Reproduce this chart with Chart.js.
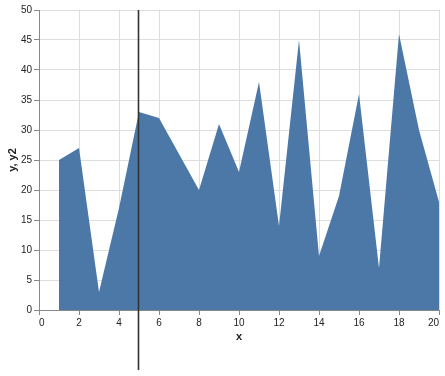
<!DOCTYPE html>
<html>
<head>
<meta charset="utf-8">
<script src="https://cdn.jsdelivr.net/npm/chart.js@4"></script>
<style>
  html, body { margin: 0; padding: 0; background: #fff; }
  #wrap { width: 445px; height: 376px; }
</style>
</head>
<body>
<div id="wrap"><canvas id="myChart" width="445" height="376"></canvas></div>
<script>
// data
var xValues = [1, 2, 3, 4, 5, 6, 7, 8, 9, 10, 11, 12, 13, 14, 15, 16, 17, 18, 19, 20];
var yValues = [25, 27, 3, 17, 33, 32, 26, 20, 31, 23, 38, 14, 45, 9, 19, 36, 7, 46, 30, 18];
var y2Values = [0, 0, 0, 0, 0, 0, 0, 0, 0, 0, 0, 0, 0, 0, 0, 0, 0, 0, 0, 0];
var ruleX = [5];

var fontFamily = "'Liberation Sans', Arial, sans-serif";

// vertical rule drawn from the x scale
var rulePlugin = {
    id: 'rule',
    afterDatasetsDraw: function (chart) {
        var ctx = chart.ctx;
        var xs = chart.scales.x;
        ctx.save();
        ctx.strokeStyle = '#333';
        ctx.lineWidth = 1.6;
        ruleX.forEach(function (v) {
            var px = Math.round(xs.getPixelForValue(v)) - 0.5;
            ctx.beginPath();
            ctx.moveTo(px, chart.chartArea.top);
            ctx.lineTo(px, 370);
            ctx.stroke();
        });
        ctx.restore();
    }
};

new Chart(document.getElementById("myChart"), {
    type: 'line',
    data: {
        datasets: [{
            label: 'y',
            data: xValues.map(function (x, i) { return { x: x, y: yValues[i] }; }),
            borderWidth: 0,
            borderColor: 'rgba(0,0,0,0)',
            backgroundColor: '#4c78a8',
            fill: 'origin',
            tension: 0,
            pointRadius: 0
        }]
    },
    options: {
        responsive: false,
        animation: false,
        layout: { padding: { left: 0, right: 6, top: 10, bottom: 32 } },
        plugins: {
            legend: { display: false },
            tooltip: { enabled: false }
        },
        scales: {
            x: {
                type: 'linear',
                min: 0,
                max: 20,
                afterFit: function (scale) {
                    scale.height = 34;
                    scale.paddingLeft = 0;
                    scale.paddingRight = 0;
                },
                ticks: {
                    stepSize: 2,
                    padding: 2,
                    align: 'inner',
                    maxRotation: 0,
                    color: '#222',
                    font: { family: fontFamily, size: 10 }
                },
                grid: { color: '#ddd', tickColor: '#888', tickLength: 5 },
                border: { color: '#888' },
                title: {
                    display: true,
                    text: 'x',
                    color: '#222',
                    padding: { top: 0, bottom: 0 },
                    font: { family: fontFamily, size: 11, weight: 'bold' }
                }
            },
            y: {
                min: 0,
                max: 50,
                afterFit: function (scale) { scale.width = 39; },
                ticks: {
                    stepSize: 5,
                    padding: 2,
                    color: '#222',
                    font: { family: fontFamily, size: 10 }
                },
                grid: { color: '#ddd', tickColor: '#888', tickLength: 5 },
                border: { color: '#888' },
                title: {
                    display: true,
                    text: 'y, y2',
                    color: '#222',
                    padding: { top: 6, bottom: 0 },
                    font: { family: fontFamily, size: 11, weight: 'bold' }
                }
            }
        }
    },
    plugins: [rulePlugin]
});
</script>
</body>
</html>
